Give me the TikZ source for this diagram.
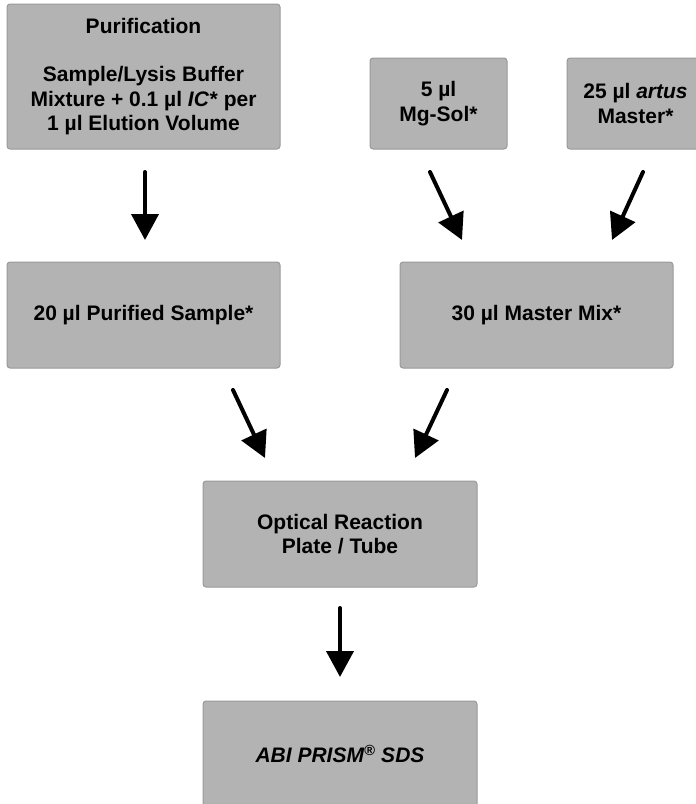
\documentclass[tikz,border=0pt]{standalone}
\usepackage{fontspec}
\setmainfont{Liberation Sans}
\usetikzlibrary{arrows.meta}

\definecolor{boxgray}{HTML}{B3B3B3}
\definecolor{edgegray}{HTML}{999999}

\begin{document}
\begin{tikzpicture}[x=1pt,y=-1pt,
	box/.style={draw=edgegray,line width=1pt,fill=boxgray,rounded corners=3pt,
		align=center,inner sep=0pt,
		font=\fontsize{21}{24.5}\selectfont\bfseries},
	arr/.style={line width=4pt,line cap=round,-{Triangle[width=27pt,length=26pt]}}]
	\useasboundingbox (0,0) rectangle (696,804);

	\node[box,minimum width=273pt,minimum height=145pt] (purif) at (143.5,76.5)
		{Purification\\[24pt]Sample/Lysis Buffer\\Mixture + 0.1 µl \textit{IC*} per\\1 µl Elution Volume};
	\node[box,minimum width=137pt,minimum height=91pt] (mgsol) at (438.5,103.5) {5 µl\\Mg-Sol*};
	\node[box,minimum width=137pt,minimum height=91pt] (artus) at (635.5,103.5) {25 µl \textit{artus}\\Master*};

	\node[box,minimum width=273pt,minimum height=106pt] (sample) at (143.5,315) {20 µl Purified Sample*};
	\node[box,minimum width=273pt,minimum height=106pt] (mix) at (536.5,315) {30 µl Master Mix*};

	\node[box,minimum width=274pt,minimum height=106pt] (plate) at (340,534) {Optical Reaction\\Plate / Tube};
	\node[box,minimum width=274pt,minimum height=106pt] (sds) at (340,754) {\textit{ABI PRISM\textsuperscript{®} SDS}};

	\coordinate (a1) at (145,172);  \coordinate (b1) at (145,240);
	\coordinate (a2) at (430,172);  \coordinate (b2) at (462,240);
	\coordinate (a3) at (643,172);  \coordinate (b3) at (612,240);
	\coordinate (a4) at (233,390);  \coordinate (b4) at (265,458);
	\coordinate (a5) at (447,390);  \coordinate (b5) at (415,458);
	\coordinate (a6) at (340,608);  \coordinate (b6) at (340,677);

	\draw[arr] (a1) -- (b1);
	\draw[arr] (a2) -- (b2);
	\draw[arr] (a3) -- (b3);
	\draw[arr] (a4) -- (b4);
	\draw[arr] (a5) -- (b5);
	\draw[arr] (a6) -- (b6);
\end{tikzpicture}
\end{document}
